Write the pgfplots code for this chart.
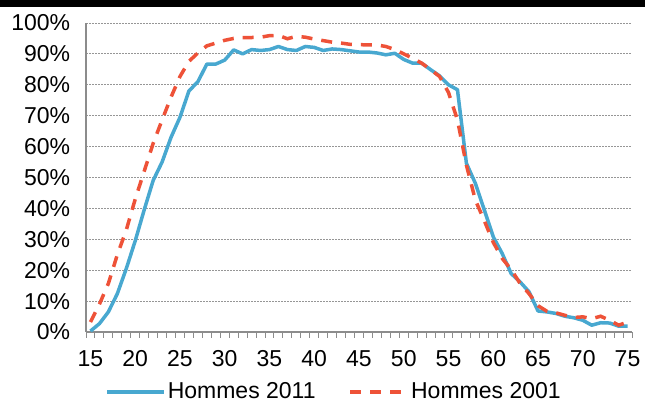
\documentclass[border=0pt]{standalone}
\usepackage{pgfplots}
\pgfplotsset{compat=1.18}
\usepackage{fontspec}
\setmainfont{Liberation Sans}
\definecolor{cblue}{RGB}{72,168,208}
\definecolor{cred}{RGB}{238,82,56}
\definecolor{cgrid}{RGB}{150,150,150}
\definecolor{caxis}{RGB}{140,140,140}
\begin{document}
\fontsize{23}{27}\selectfont
\begin{tikzpicture}
\useasboundingbox (0,0) rectangle (645pt,412pt);
\fill[black] (0,404.5pt) rectangle (645pt,412pt);
\begin{axis}[
  at={(86pt,80pt)}, anchor=south west,
  scale only axis, width=546pt, height=309pt,
  xmin=14.5, xmax=75.5, ymin=0, ymax=100,
  axis x line*=bottom, axis y line*=left,
  axis line style={draw=caxis, line width=1.3pt, -},
  ytick={0,10,...,100},
  yticklabels={0\%,10\%,20\%,30\%,40\%,50\%,60\%,70\%,80\%,90\%,100\%},
  xtick={15,20,...,75},
  minor xtick={14.5,15.5,...,75.5},
  tick align=outside,
  major tick length=0pt, minor tick length=6pt,
  minor x tick style={draw=caxis, line width=1pt},
  ymajorgrids,
  major grid style={draw=cgrid, line width=0.9pt, dash pattern=on 1.5pt off 1.5pt},
  /pgf/number format/assume math mode=true,
  ticklabel style={font=\fontsize{23}{27}\selectfont},
  xticklabel style={yshift=-11pt},
  yticklabel style={xshift=-8pt},
  legend style={at={(0.4542,-0.194)}, anchor=center, draw=none, fill=none,
    legend columns=2, font=\fontsize{23}{27}\selectfont,
    /tikz/every even column/.append style={column sep=31pt}},
  legend image code/.code={\draw[#1] (0pt,0pt) -- (57pt,0pt);},
]
\addplot[draw=cblue, line width=3.5pt, line join=round, no markers] coordinates {
(15,0.3)(16,2.7)(17,6.5)(18,12.4)(19,20.5)(20,29.5)(21,39.5)(22,49)(23,55)(24,63)
(25,69.5)(26,78)(27,81)(28,86.7)(29,86.7)(30,88)(31,91.3)(32,90)(33,91.4)(34,91.1)
(35,91.4)(36,92.4)(37,91.4)(38,91.1)(39,92.4)(40,92.1)(41,91.1)(42,91.6)(43,91.4)(44,91)
(45,90.6)(46,90.6)(47,90.3)(48,89.7)(49,90.2)(50,88.2)(51,87)(52,87)(53,84.9)(54,82.9)
(55,80)(56,78.4)(57,54.6)(58,48.1)(59,39.5)(60,30.8)(61,25.4)(62,18.9)(63,16.2)(64,13)
(65,6.8)(66,6.5)(67,6)(68,5.1)(69,4.6)(70,3.8)(71,2.2)(72,3)(73,2.9)(74,1.9)(75,1.9)
};
\addlegendentry{Hommes 2011}
\addplot[draw=cred, line width=3.5pt, dash pattern=on 11pt off 9pt, no markers] coordinates {
(15,3.2)(16,9)(17,15.7)(18,25)(19,33)(20,43)(21,52)(22,61)(23,68.6)(24,76)
(25,82.7)(26,87.6)(27,90.3)(28,92.6)(29,93.5)(30,94.4)(31,95)(32,95.3)(33,95.3)(34,95.4)
(35,95.9)(36,96)(37,94.9)(38,95.7)(39,95.4)(40,94.8)(41,94.3)(42,93.8)(43,93.5)(44,93.1)
(45,93)(46,92.9)(47,92.9)(48,92.4)(49,91.4)(50,90)(51,88.6)(52,87)(53,84.9)(54,82.7)
(55,77.5)(56,68.6)(57,54)(58,42.7)(59,36)(60,29)(61,23.8)(62,20.2)(63,15.7)(64,12.4)
(65,8.5)(66,6.7)(67,6.2)(68,5.4)(69,4.7)(70,4.9)(71,4.3)(72,5.1)(73,3.8)(74,2.2)(75,3.2)
};
\addlegendentry{Hommes 2001}
\end{axis}
\end{tikzpicture}
\end{document}
